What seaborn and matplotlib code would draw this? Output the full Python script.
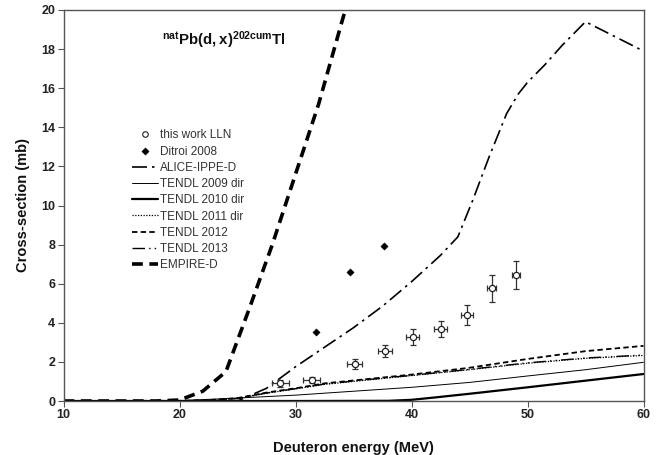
import matplotlib
matplotlib.use("Agg")
import matplotlib.pyplot as plt
import seaborn as sns
import numpy as np

# ---- data ----
lln_e = [28.7, 31.4, 35.1, 37.7, 40.1, 42.5, 44.8, 46.9, 49.0]
lln_de = [0.75, 0.75, 0.65, 0.6, 0.55, 0.53, 0.5, 0.4, 0.32]
lln_xs = [0.91, 1.07, 1.88, 2.56, 3.26, 3.68, 4.40, 5.76, 6.44]
lln_dxs = [0.18, 0.17, 0.26, 0.32, 0.40, 0.42, 0.50, 0.68, 0.73]

ditroi_e = [31.8, 34.7, 37.6]
ditroi_xs = [3.53, 6.58, 7.93]

alice_e = [10, 20, 24, 25, 27.5, 30, 32.5, 35, 37.5, 40, 42.5, 44, 45.3, 46.7, 48.2,
           49.2, 50, 51.5, 53, 55, 60]
alice_xs = [0, 0, 0, 0.0, 0.65, 1.75, 2.75, 3.75, 4.85, 6.1, 7.45, 8.4, 10.3, 12.5, 14.7,
            15.7, 16.3, 17.2, 18.2, 19.4, 17.9]

t09_e = [10, 20, 25, 30, 35, 40, 45, 50, 55, 60]
t09_xs = [0, 0.02, 0.15, 0.3, 0.5, 0.7, 0.95, 1.28, 1.6, 1.98]

t10_e = [10, 20, 30, 38, 40, 42, 45, 50, 55, 60]
t10_xs = [0, 0, 0, 0.01, 0.06, 0.18, 0.37, 0.70, 1.04, 1.38]

t11_e = [10, 20, 22.5, 25, 27.5, 30, 32.5, 35, 37.5, 40, 45, 50, 55, 60]
t11_xs = [0, 0.01, 0.03, 0.12, 0.4, 0.62, 0.85, 1.0, 1.15, 1.3, 1.6, 1.93, 2.18, 2.33]

t12_e = [10, 20, 22.5, 25, 27.5, 30, 32.5, 35, 37.5, 40, 45, 50, 55, 60]
t12_xs = [0, 0.01, 0.04, 0.15, 0.43, 0.65, 0.9, 1.05, 1.2, 1.35, 1.7, 2.15, 2.55, 2.82]

t13_e = [10, 20, 22.5, 25, 27.5, 30, 32.5, 35, 37.5, 40, 45, 50, 55, 60]
t13_xs = [0, 0.01, 0.03, 0.13, 0.41, 0.63, 0.87, 1.02, 1.17, 1.31, 1.62, 1.95, 2.2, 2.35]

emp_e = [10, 18, 20, 22, 24, 26, 28, 30, 32, 34, 36]
emp_xs = [0, 0, 0.05, 0.5, 1.5, 4.7, 8.0, 11.6, 15.2, 19.4, 23.5]

# ---- style ----
sns.set_style("white")
plt.rcParams['font.family'] = ['Liberation Sans', 'DejaVu Sans']
plt.rcParams['mathtext.fontset'] = 'custom'
plt.rcParams['mathtext.rm'] = 'Liberation Sans'
plt.rcParams['mathtext.bf'] = 'Liberation Sans:bold'

fig = plt.figure(figsize=(6.67, 4.55), dpi=100)
ax = fig.add_axes([63.5/667, 1 - 401/455, 580/667, 391/455])

k = 'black'
sns.lineplot(x=alice_e, y=alice_xs, ax=ax, color=k, lw=1.2, sort=False, estimator=None,
             linestyle=(0, (9, 3, 1.5, 3)), label='ALICE-IPPE-D', legend=False)
sns.lineplot(x=t09_e, y=t09_xs, ax=ax, color=k, lw=0.7, sort=False, estimator=None,
             linestyle='-', label='TENDL 2009 dir', legend=False)
sns.lineplot(x=t10_e, y=t10_xs, ax=ax, color=k, lw=1.6, sort=False, estimator=None,
             linestyle='-', label='TENDL 2010 dir', legend=False)
sns.lineplot(x=t11_e, y=t11_xs, ax=ax, color=k, lw=0.9, sort=False, estimator=None,
             linestyle=(0, (1, 1.2)), label='TENDL 2011 dir', legend=False)
sns.lineplot(x=t12_e, y=t12_xs, ax=ax, color=k, lw=1.3, sort=False, estimator=None,
             linestyle=(0, (3, 1.8)), label='TENDL 2012', legend=False)
sns.lineplot(x=t13_e, y=t13_xs, ax=ax, color=k, lw=1.0, sort=False, estimator=None,
             linestyle=(0, (9, 3, 1, 3, 1, 3)), label='TENDL 2013', legend=False)
sns.lineplot(x=emp_e, y=emp_xs, ax=ax, color=k, lw=2.6, sort=False, estimator=None,
             linestyle=(0, (3, 1.8)), label='EMPIRE-D', legend=False)

sns.scatterplot(x=ditroi_e, y=ditroi_xs, ax=ax, marker='D', s=14, color=k,
                edgecolor=k, label='Ditroi 2008', legend=False, zorder=5)

ax.errorbar(lln_e, lln_xs, xerr=lln_de, yerr=lln_dxs, fmt='o', ms=4.5,
            mfc='white', mec='#222222', mew=0.9, ecolor='#333333',
            elinewidth=0.9, capsize=2, capthick=0.9, label='this work LLN', zorder=6)

ax.set_xlim(10, 60)
ax.set_ylim(0, 20)
ax.set_xticks([10, 20, 30, 40, 50, 60])
ax.set_yticks(range(0, 21, 2))
ax.tick_params(axis='both', direction='out', length=4, width=0.8, color='#555555',
               labelsize=9, pad=2, bottom=True, left=True)
for lab in ax.get_xticklabels() + ax.get_yticklabels():
    lab.set_fontweight('bold')
    lab.set_color('#222222')
for sp in ax.spines.values():
    sp.set_color('#555555')
    sp.set_linewidth(1.0)

ax.set_xlabel('Deuteron energy (MeV)', fontsize=10.5, fontweight='bold', labelpad=14, color='#111111')
ax.set_ylabel('Cross-section (mb)', fontsize=10.5, fontweight='bold', labelpad=8, color='#111111')

fig.text(224/667, 1 - 40/455, r'$\mathbf{^{nat}Pb(d,x)^{202cum}Tl}$', fontsize=10.8,
         ha='center', va='center', color='#111111')

# legend in the original order
handles, labels = ax.get_legend_handles_labels()
hmap = dict(zip(labels, handles))
hmap['this work LLN'] = plt.Line2D([], [], marker='o', ls='none', ms=4, mfc='white',
                                   mec='#222222', mew=0.8)
order = ['this work LLN', 'Ditroi 2008', 'ALICE-IPPE-D', 'TENDL 2009 dir', 'TENDL 2010 dir',
         'TENDL 2011 dir', 'TENDL 2012', 'TENDL 2013', 'EMPIRE-D']
leg = ax.legend([hmap[o] for o in order], order, loc='upper left',
                bbox_to_anchor=(0.118, 0.695), frameon=False, fontsize=8.5,
                handlelength=2.2, handletextpad=0.2, labelspacing=0.36, borderpad=0,
                borderaxespad=0)
for t in leg.get_texts():
    t.set_color('#333333')

fig.savefig('out.png', dpi=100)
